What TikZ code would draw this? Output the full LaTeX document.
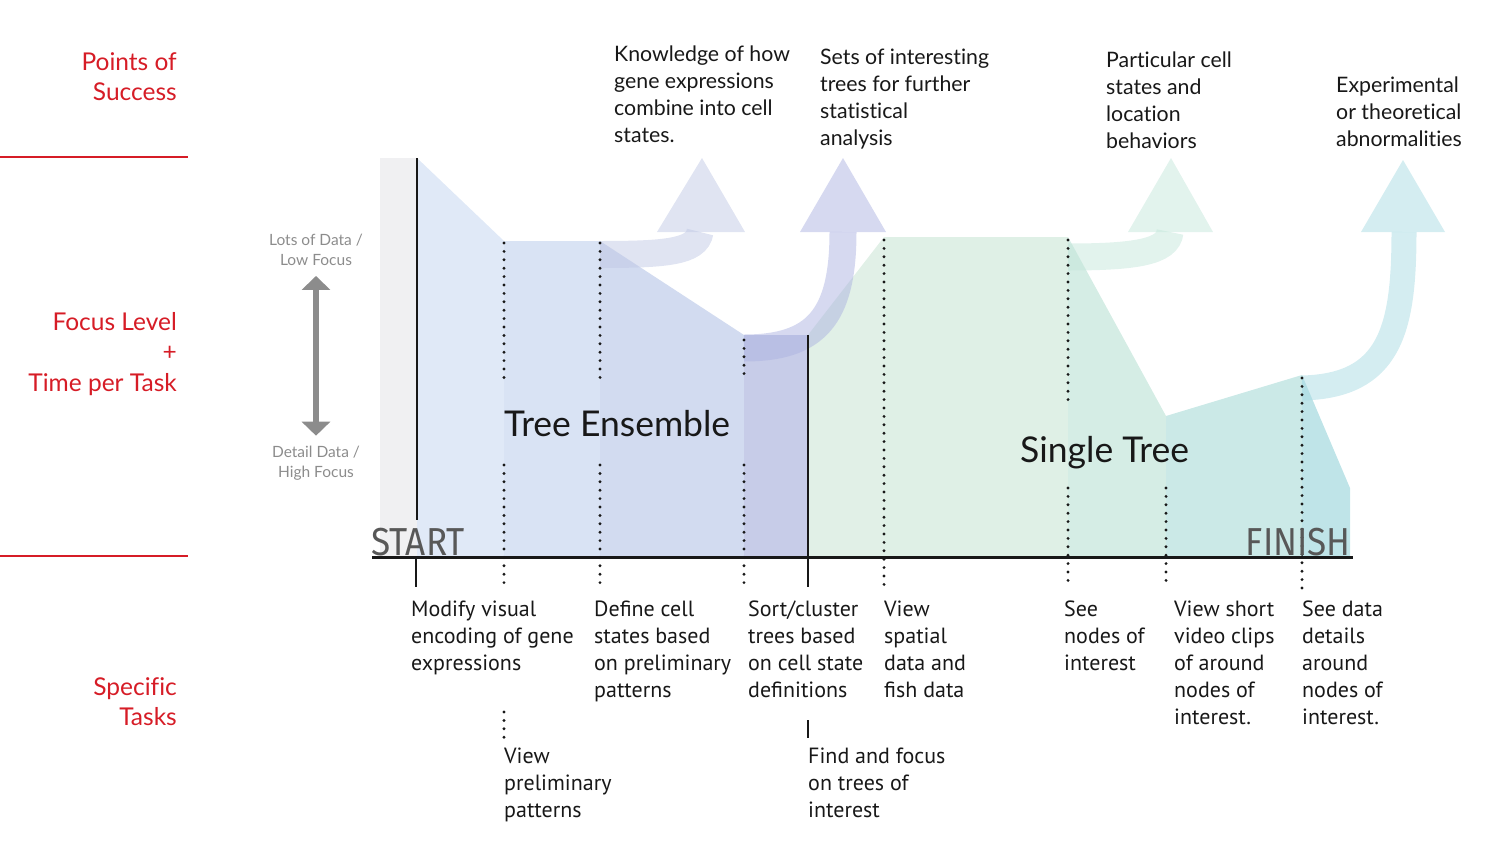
\documentclass[tikz,border=0pt]{standalone}
\usepackage{fontspec}
\setmainfont[Ligatures=NoCommon]{Lato}
\newfontfamily\taskfont{PT Sans}
\newfontfamily\endfont[FakeStretch=0.9]{Fira Sans}
\usepackage{tikz}
\usetikzlibrary{arrows.meta,positioning,calc}
\definecolor{ink}{RGB}{24,24,24}
\definecolor{redlab}{RGB}{214,28,38}
\definecolor{hintgray}{RGB}{140,140,140}
\definecolor{endgray}{RGB}{88,88,88}
\definecolor{strip}{RGB}{240,240,242}
\definecolor{zoneA}{RGB}{224,233,247}
\definecolor{zoneB}{RGB}{217,227,244}
\definecolor{zoneC}{RGB}{210,219,240}
\definecolor{zoneD}{RGB}{199,204,232}
\definecolor{zoneE}{RGB}{225,240,231}
\definecolor{zoneF}{RGB}{223,240,230}
\definecolor{zoneG}{RGB}{213,237,229}
\definecolor{zoneH}{RGB}{203,233,231}
\definecolor{zoneI}{RGB}{191,228,232}
\definecolor{flowA}{RGB}{193,201,229}
\definecolor{flowB}{RGB}{173,179,225}
\definecolor{flowC}{RGB}{197,231,219}
\definecolor{flowD}{RGB}{169,219,227}

\begin{document}
\begin{tikzpicture}[x=1pt,y=-1pt,
    band/.style={line width=27pt,line cap=butt,draw opacity=0.5},
    head/.style={fill opacity=0.5,draw=none},
    dots/.style={line width=3.2pt,line cap=round,dash pattern=on 0pt off 8.4pt,draw=ink},
    tick/.style={line width=2.8pt,draw=ink},
    task/.style={anchor=north west,inner sep=0pt,align=left,text=ink,
        font=\taskfont\fontsize{22}{27}\selectfont},
    goal/.style={anchor=north west,inner sep=0pt,align=left,text=ink,
        font=\fontsize{21.3}{27}\selectfont},
    side/.style={anchor=north east,inner sep=0pt,align=right,text=redlab,
        font=\fontsize{24.5}{30.5}\selectfont},
    hint/.style={inner sep=0pt,align=center,text=hintgray,
        font=\fontsize{15.5}{20}\selectfont},
    endlab/.style={inner sep=0pt,text=endgray,font=\endfont\fontsize{39}{40}\selectfont},
    zone/.style={anchor=base west,inner sep=0pt,text=ink,font=\fontsize{35.5}{40}\selectfont},
    updown/.style={{Triangle[width=28pt,length=14pt]}-{Triangle[width=28pt,length=14pt]},
        line width=6.5pt,draw=hintgray}
]
\useasboundingbox (0,0) rectangle (1500,841);

% row rules and row labels
\draw[redlab,line width=2.5pt] (0,157) -- (188,157);
\draw[redlab,line width=2.5pt] (0,556) -- (188,556);
\node[side] (success) at (177,52) {Points of\\Success};
\node[side] (focus) at (177,312) {Focus Level\\+\\Time per Task};
\node[side] (specific) at (177,677) {Specific\\Tasks};

% focus scale
\node[hint] (lots) at (316,250) {Lots of Data /\\Low Focus};
\node[hint] (detail) at (316,463) {Detail Data /\\High Focus};
\draw[updown,shorten <=10pt,shorten >=10pt] (lots.south) -- (detail.north);

% focus profile
\fill[strip] (380,158) rectangle (417,557);
\fill[zoneA] (417,158) -- (504,241) -- (504,557) -- (417,557) -- cycle;
\fill[zoneB] (504,241) -- (600,241) -- (600,557) -- (504,557) -- cycle;
\fill[zoneC] (600,241) -- (744,335) -- (744,557) -- (600,557) -- cycle;
\fill[zoneD] (744,335) -- (808,335) -- (808,557) -- (744,557) -- cycle;
\fill[zoneE] (808,335) -- (884,237) -- (884,557) -- (808,557) -- cycle;
\fill[zoneF] (884,237) -- (1068,237) -- (1068,557) -- (884,557) -- cycle;
\fill[zoneG] (1068,237) -- (1166,416) -- (1166,557) -- (1068,557) -- cycle;
\fill[zoneH] (1166,416) -- (1302,375) -- (1302,557) -- (1166,557) -- cycle;
\fill[zoneI] (1302,375) -- (1350,488) -- (1350,557) -- (1302,557) -- cycle;

% outcome arrows
\draw[band,draw=flowA] (600,254.5) .. controls (665,254.5) and (697,252) .. (700,232);
\fill[head,fill=flowA] (657,232) -- (702,158) -- (745,232) -- cycle;
\draw[band,draw=flowB] (744,348) .. controls (815,348) and (843,318) .. (843,232);
\fill[head,fill=flowB] (800,232) -- (843,158) -- (886,232) -- cycle;
\draw[band,draw=flowC] (1068,257) .. controls (1135,257) and (1168,252) .. (1170,232);
\fill[head,fill=flowC] (1128,232) -- (1171,158) -- (1213,232) -- cycle;
\draw[band,draw=flowD,line width=25pt] (1302,388) .. controls (1390,386) and (1404,330) .. (1404,232);
\fill[head,fill=flowD] (1361,232) -- (1403,160) -- (1445,232) -- cycle;

% outcomes
\node[goal] (know) at (614,46) {Knowledge of how\\gene expressions\\combine into cell\\states.};
\node[goal] (sets) at (820,49) {Sets of interesting\\trees for further\\statistical\\analysis};
\node[goal] (cells) at (1106,52) {Particular cell\\states and\\location\\behaviors};
\node[goal] (abnorm) at (1336,77) {Experimental\\or theoretical\\abnormalities};

% time line
\coordinate (t0) at (416,557);
\coordinate (t1) at (504,557);
\coordinate (t2) at (600,557);
\coordinate (t3) at (744,557);
\coordinate (t4) at (808,557);
\coordinate (t5) at (884,557);
\coordinate (t6) at (1068,557);
\coordinate (t7) at (1166,557);
\coordinate (t8) at (1302,557);
\draw[tick] (417,158) -- (417,520);
\draw[tick] (808,335) -- (t4);
\draw[dots] (504,243) -- (504,382);
\draw[dots] (600,243) -- (600,382);
\draw[dots] (744,340) -- (744,377);
\draw[dots] (1068,240) -- (1068,407);
\draw[dots] (t1) ++(0,-92) -- ++(0,123);
\draw[dots] (t2) ++(0,-92) -- ++(0,123);
\draw[dots] (t3) ++(0,-92) -- ++(0,123);
\draw[dots] (884,240) -- ($(t5)+(0,31)$);
\draw[dots] (t6) ++(0,-69) -- ++(0,100);
\draw[dots] (t7) ++(0,-69) -- ++(0,100);
\draw[dots] (1302,378) -- ($(t8)+(0,31)$);
\draw[tick] (t0) -- ++(0,30);
\draw[tick] (t4) -- ++(0,30);
\draw[line width=3pt,draw=ink] (372,557) -- (1353,557);

\node[endlab,anchor=base west] (start) at (371,555) {START};
\node[endlab,anchor=base east] (finish) at (1351,555) {FINISH};
\node[zone] (ensemble) at (504,436) {Tree Ensemble};
\node[zone] (single) at (1020,462) {Single Tree};

% tasks
\node[task] (modify) at (411,601) {Modify visual\\encoding of gene\\expressions};
\node[task] (define) at (594,601) {Define cell\\states based\\on preliminary\\patterns};
\node[task] (sortc) at (748,601) {Sort/cluster\\trees based\\on cell state\\definitions};
\node[task] (spatial) at (884,601) {View\\spatial\\data and\\fish data};
\node[task] (seenodes) at (1064,601) {See\\nodes of\\interest};
\node[task] (clips) at (1174,601) {View short\\video clips\\of around\\nodes of\\interest.};
\node[task] (details) at (1302,601) {See data\\details\\around\\nodes of\\interest.};
\node[task] (prelim) at (504,748) {View\\preliminary\\patterns};
\node[task] (findfocus) at (808,748) {Find and focus\\on trees of\\interest};
\draw[dots] (prelim.north west) ++(0,-36) -- ++(0,26);
\draw[tick] (findfocus.north west) ++(0,-28) -- ++(0,18);
\end{tikzpicture}
\end{document}
